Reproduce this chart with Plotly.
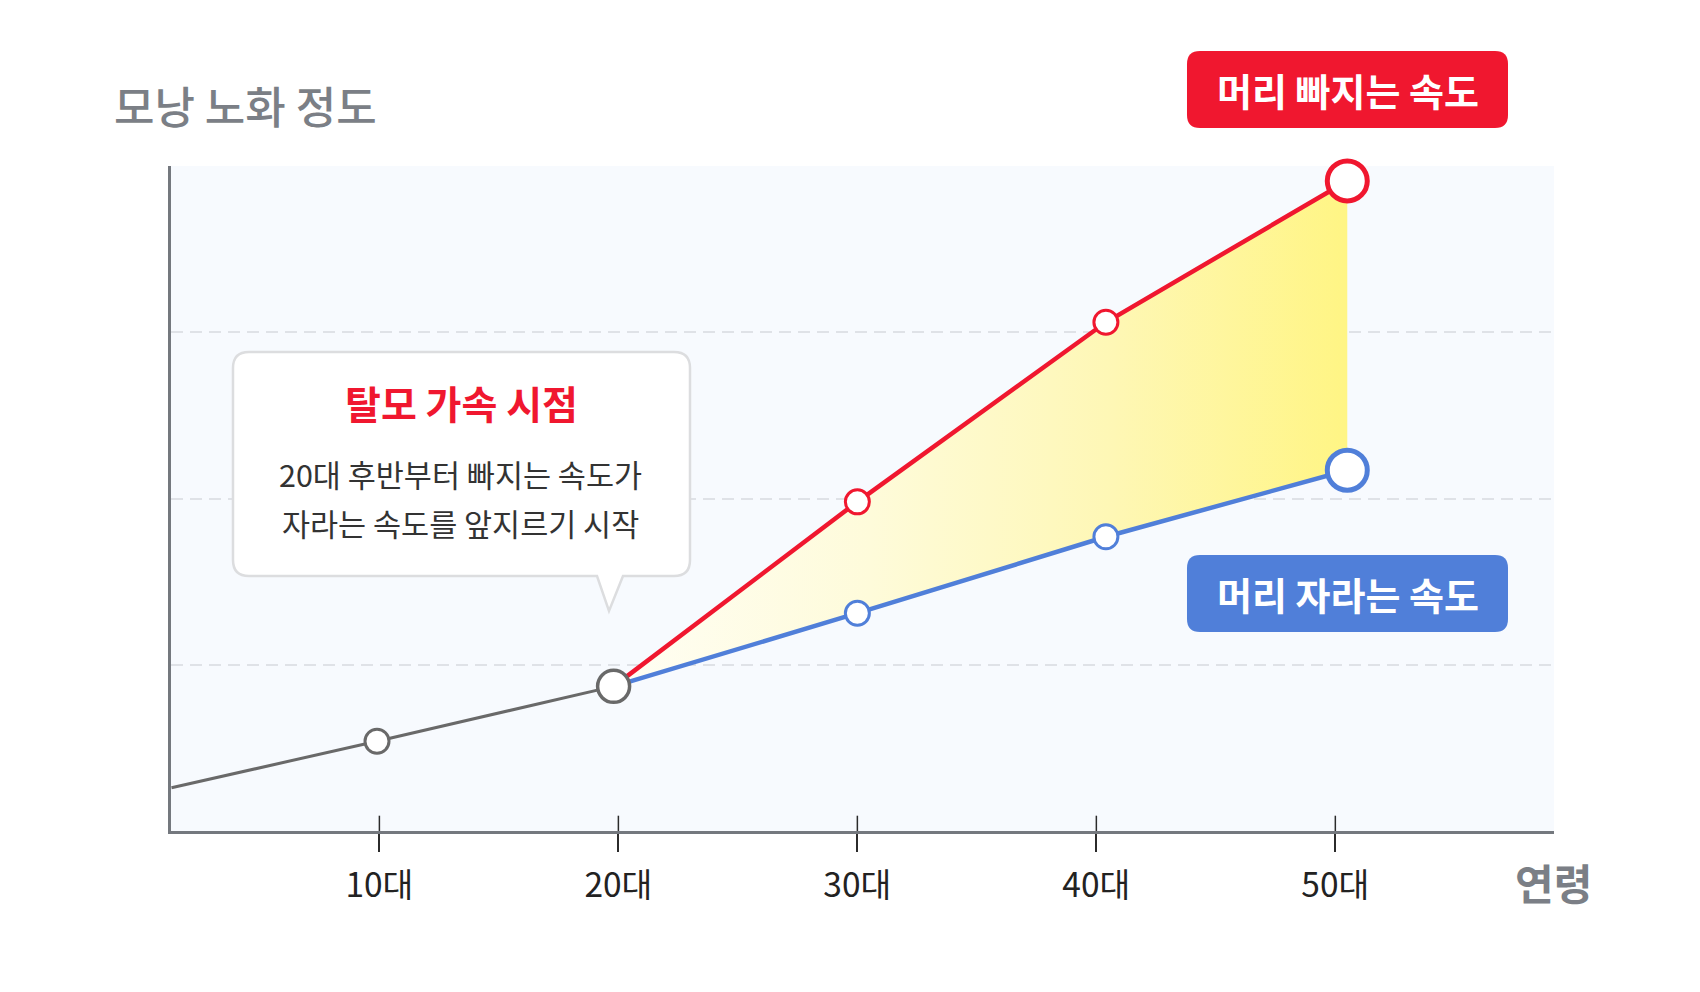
import plotly.graph_objects as go

# ---------------- data ----------------
age_ticks = [10, 20, 30, 40, 50]
tick_labels = ["10대", "20대", "30대", "40대", "50대"]

grey_x = [1.3, 9.9, 19.8]          # before the split (common path)
grey_y = [0.26, 0.54, 0.87]

split_x = [19.8, 30.0, 40.4, 50.5]  # 20대 onward
loss_y = [0.87, 1.98, 3.06, 3.91]   # 머리 빠지는 속도
growth_y = [0.87, 1.31, 1.77, 2.17]  # 머리 자라는 속도

y_grid = [1, 2, 3]

title_text = "모낭 노화 정도"
x_title_text = "연령"
red_label = "머리 빠지는 속도"
blue_label = "머리 자라는 속도"
callout_title = "탈모 가속 시점"
callout_body = ["20대 후반부터 빠지는 속도가", "자라는 속도를 앞지르기 시작"]

# ---------------- style ----------------
W, H = 1700, 992
L, R, T, B = 171, 1554, 166, 831
FONT = "Noto Sans CJK KR"
RED = "#F0172F"
BLUE = "#507FD9"
GREY = "#696969"
AXIS = "#74787E"


def px(x):
    return (x - L) / (R - L)


def py(y):
    return (B - y) / (B - T)


def rounded_rect(x0, y0, x1, y1, r, pointer=None):
    """Path in paper coordinates from a pixel box; pointer=(base_l, base_r, tip_x, tip_y) on bottom edge."""
    p = lambda x, y: f"{px(x):.5f},{py(y):.5f}"
    d = f"M {p(x0 + r, y0)} L {p(x1 - r, y0)} Q {p(x1, y0)} {p(x1, y0 + r)} "
    d += f"L {p(x1, y1 - r)} Q {p(x1, y1)} {p(x1 - r, y1)} "
    if pointer:
        bl, br, tx, ty = pointer
        d += f"L {p(br, y1)} L {p(tx, ty)} L {p(bl, y1)} "
    d += f"L {p(x0 + r, y1)} Q {p(x0, y1)} {p(x0, y1 - r)} "
    d += f"L {p(x0, y0 + r)} Q {p(x0, y0)} {p(x0 + r, y0)} Z"
    return d


fig = go.Figure()

# yellow gradient band between the two curves
fig.add_trace(go.Scatter(
    x=split_x + split_x[::-1],
    y=loss_y + growth_y[::-1],
    fill="toself",
    fillgradient=dict(type="horizontal",
                      colorscale=[[0, "#FFFEF4"], [0.35, "#FEFBDA"],
                                  [0.68, "#FEF7B5"], [1, "#FFF584"]]),
    mode="lines", line=dict(width=0),
    hoverinfo="skip", showlegend=False,
))

# lines
fig.add_trace(go.Scatter(x=split_x, y=growth_y, mode="lines",
                         line=dict(color=BLUE, width=4.5), hoverinfo="skip", showlegend=False))
fig.add_trace(go.Scatter(x=split_x, y=loss_y, mode="lines",
                         line=dict(color=RED, width=4.5), hoverinfo="skip", showlegend=False))
fig.add_trace(go.Scatter(x=grey_x, y=grey_y, mode="lines",
                         line=dict(color=GREY, width=3), hoverinfo="skip", showlegend=False))

# markers
n = len(split_x)
fig.add_trace(go.Scatter(
    x=split_x[1:], y=growth_y[1:], mode="markers", cliponaxis=False,
    marker=dict(color="white", opacity=1, size=[24] * (n - 2) + [40],
                line=dict(color=BLUE, width=[3] * (n - 2) + [5])),
    hoverinfo="skip", showlegend=False))
fig.add_trace(go.Scatter(
    x=split_x[1:], y=loss_y[1:], mode="markers", cliponaxis=False,
    marker=dict(color="white", opacity=1, size=[24] * (n - 2) + [40],
                line=dict(color=RED, width=[3] * (n - 2) + [5])),
    hoverinfo="skip", showlegend=False))
fig.add_trace(go.Scatter(
    x=grey_x[1:], y=grey_y[1:], mode="markers", cliponaxis=False,
    marker=dict(color="white", opacity=1, size=[24, 32],
                line=dict(color=GREY, width=[3, 3.5])),
    hoverinfo="skip", showlegend=False))

shapes = []
# inner halves of the tick marks (crossing the axis line)
for v in age_ticks:
    shapes.append(dict(type="line", xref="x", yref="y domain", x0=v, x1=v, y0=0, y1=0.023,
                       line=dict(color="#2B2B2B", width=1.5), layer="above"))

# callout box
shapes.append(dict(type="path", xref="paper", yref="paper",
                   path=rounded_rect(233, 352, 690, 576, 16, pointer=(597, 623, 609, 611)),
                   fillcolor="white", line=dict(color="#DCDDDF", width=2.5), layer="above"))
# badges
shapes.append(dict(type="path", xref="paper", yref="paper",
                   path=rounded_rect(1187, 51, 1508, 128, 13),
                   fillcolor=RED, line=dict(width=0), layer="above"))
shapes.append(dict(type="path", xref="paper", yref="paper",
                   path=rounded_rect(1187, 555, 1508, 632, 13),
                   fillcolor=BLUE, line=dict(width=0), layer="above"))

annotations = [
    dict(text=title_text, x=px(112), y=py(105), xref="paper", yref="paper",
         xanchor="left", yanchor="middle", showarrow=False,
         font=dict(family=FONT, size=44, color="#7B7F86", weight=500)),
    dict(text=x_title_text, x=px(1553), y=py(881), xref="paper", yref="paper",
         xanchor="center", yanchor="middle", showarrow=False,
         font=dict(family=FONT, size=42, color="#7B7F86", weight=600)),
    dict(text=red_label, x=px(1347.5), y=py(89.5), xref="paper", yref="paper",
         xanchor="center", yanchor="middle", showarrow=False,
         font=dict(family=FONT, size=38, color="white", weight=700)),
    dict(text=blue_label, x=px(1347.5), y=py(593.5), xref="paper", yref="paper",
         xanchor="center", yanchor="middle", showarrow=False,
         font=dict(family=FONT, size=38, color="white", weight=700)),
    dict(text=callout_title, x=px(461), y=py(402), xref="paper", yref="paper",
         xanchor="center", yanchor="middle", showarrow=False,
         font=dict(family=FONT, size=39, color=RED, weight=700)),
]
for line_text, yy in zip(callout_body, [474, 523]):
    annotations.append(dict(text=line_text, x=px(460), y=py(yy), xref="paper", yref="paper",
                            xanchor="center", yanchor="middle", showarrow=False,
                            font=dict(family=FONT, size=30.5, color="#333333")))

fig.update_layout(
    width=W, height=H,
    margin=dict(l=L, r=W - R, t=T, b=H - B, pad=0),
    paper_bgcolor="white", plot_bgcolor="#F7FAFE",
    showlegend=False, hovermode=False,
    shapes=shapes, annotations=annotations,
    font=dict(family=FONT),
)
fig.update_xaxes(
    range=[1.28, 59.15], showgrid=False, zeroline=False,
    showline=True, linecolor=AXIS, linewidth=3,
    tickmode="array", tickvals=age_ticks, ticktext=tick_labels,
    ticks="outside", ticklen=18, tickwidth=1.5, tickcolor="#2B2B2B",
    ticklabelstandoff=5,
    tickfont=dict(family=FONT, size=33.5, color="#222222"),
)
fig.update_yaxes(
    range=[0, 4], zeroline=False,
    showline=True, linecolor=AXIS, linewidth=3,
    tickmode="array", tickvals=y_grid, showticklabels=False, ticks="",
    showgrid=True, gridcolor="#DFE2E7", gridwidth=2, griddash="12px,7px",
)

fig.write_html("out.html")
